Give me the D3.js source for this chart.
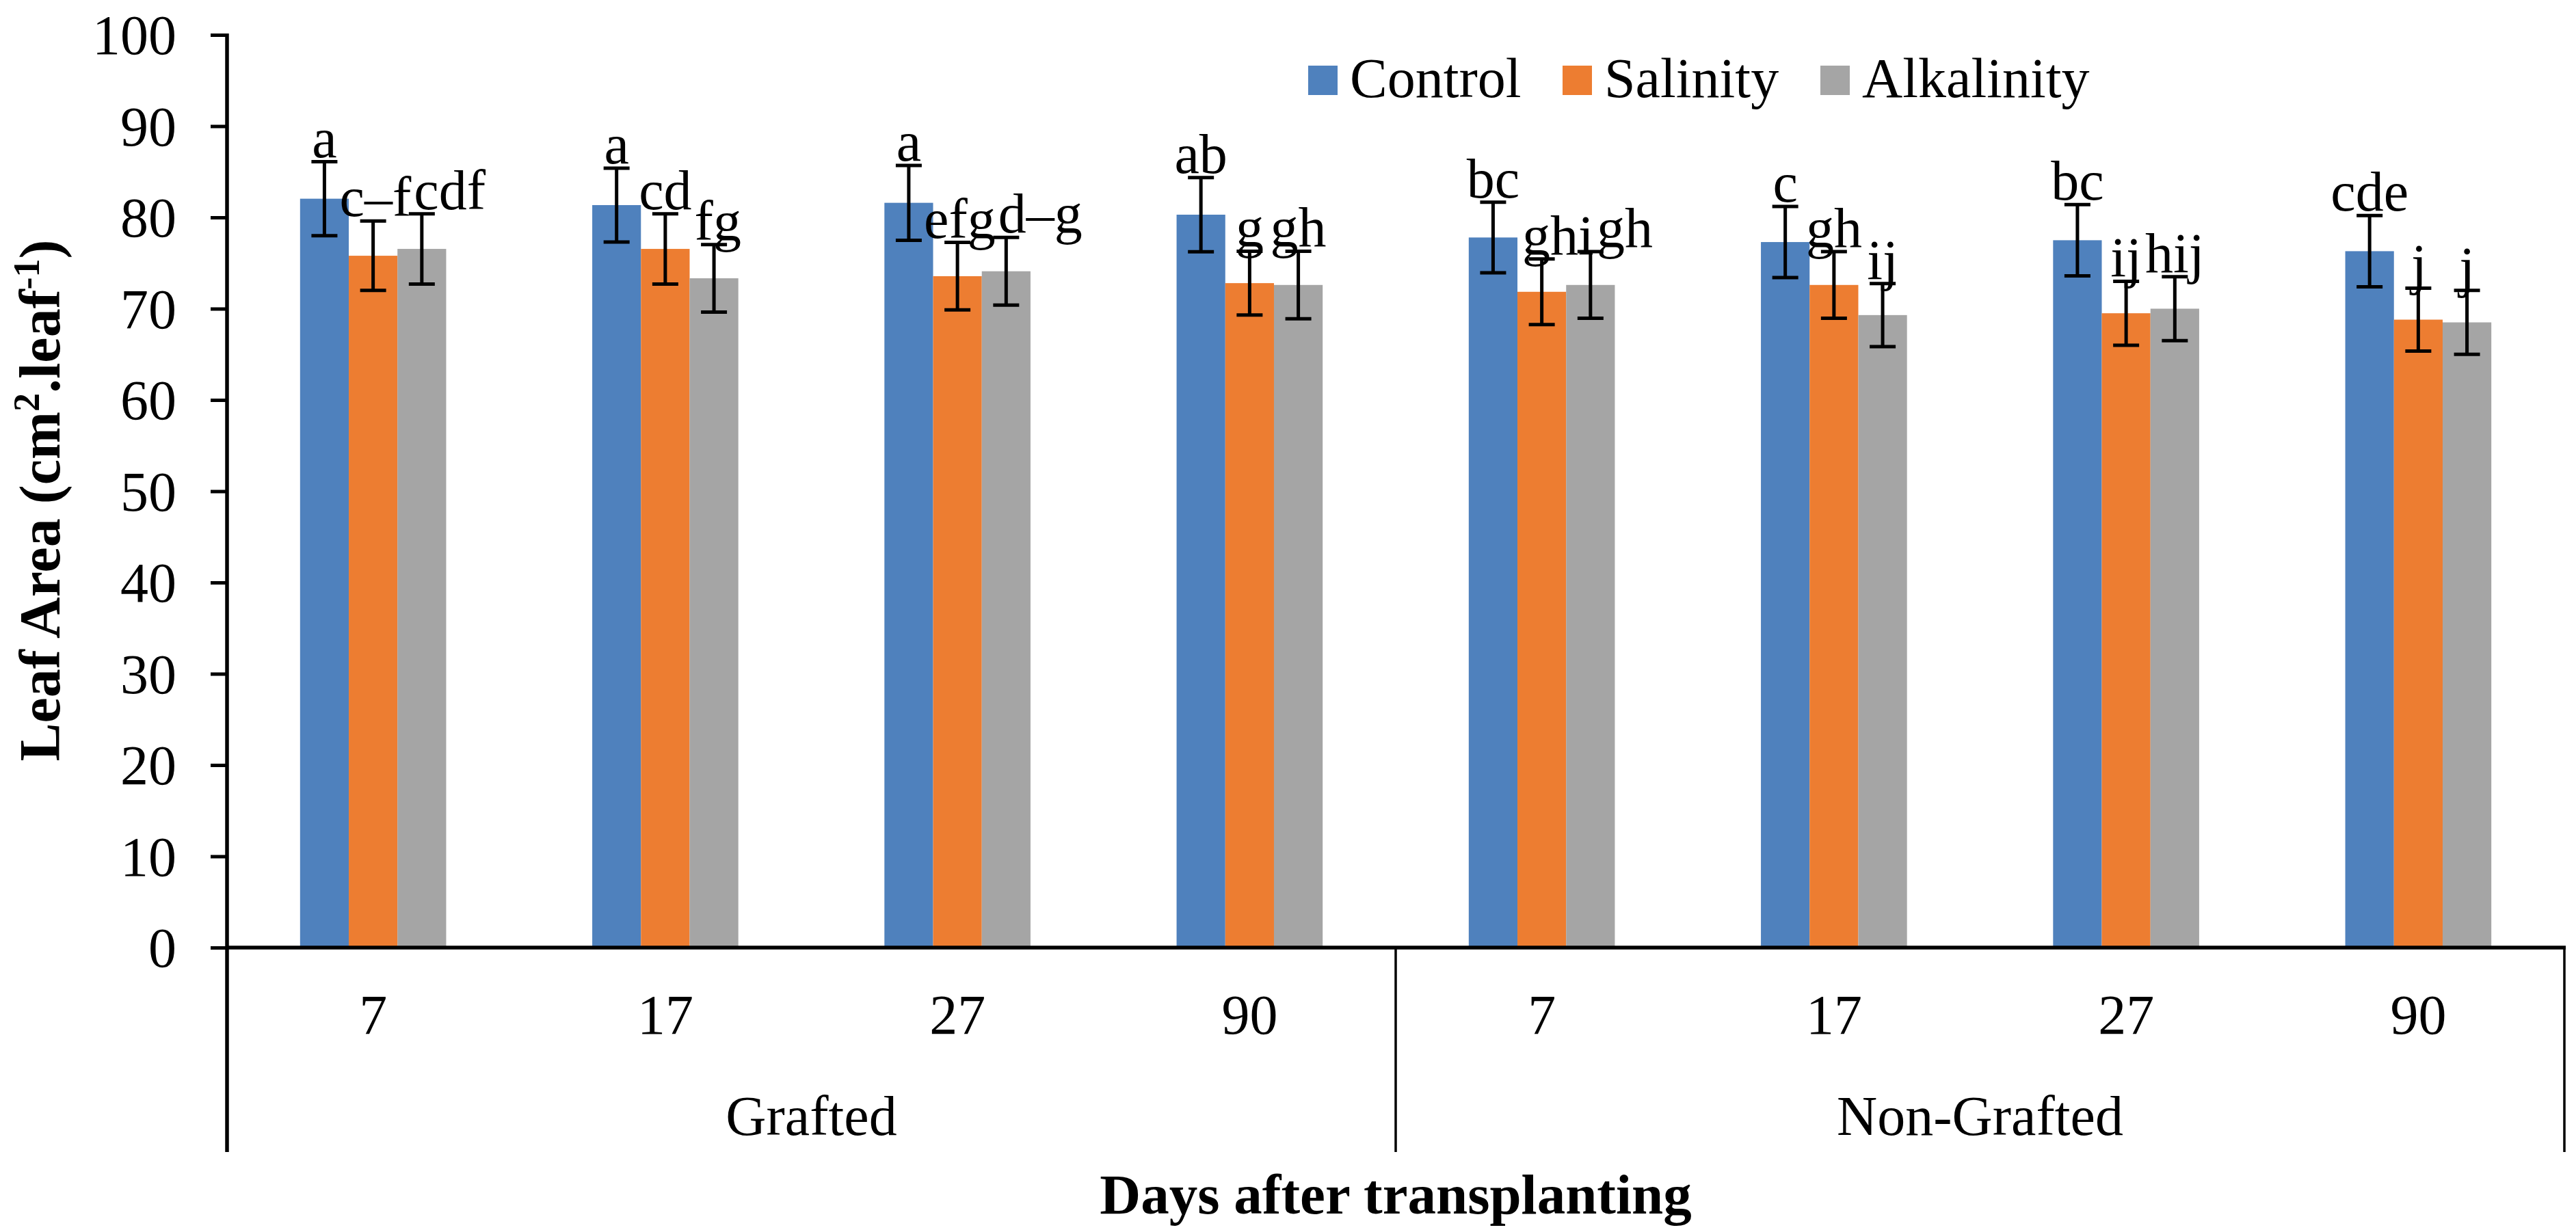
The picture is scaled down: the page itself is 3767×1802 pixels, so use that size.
<!DOCTYPE html>
<html>
<head>
<meta charset="utf-8">
<script src="https://cdn.jsdelivr.net/npm/d3@7"></script>
<style>
  html, body { margin: 0; padding: 0; background: #fff; }
  svg { display: block; }
  text { font-family: "Liberation Serif", "Times New Roman", serif; fill: #000; }
</style>
</head>
<body>
<svg id="chart" width="3767" height="1802"></svg>
<script>
// ---------------- DATA ----------------
const days = ["7", "17", "27", "90", "7", "17", "27", "90"];
const groups = ["Grafted", "Non-Grafted"];
const seriesNames = ["Control", "Salinity", "Alkalinity"];
const control    = [82.05, 81.35, 81.6, 80.3, 77.8, 77.3, 77.5, 76.3];
const salinity   = [75.8, 76.55, 73.56, 72.8, 71.85, 72.6, 69.5, 68.8];
const alkalinity = [76.55, 73.33, 74.1, 72.6, 72.6, 69.3, 70.0, 68.5];
const controlErr    = [4.05, 4.05, 4.1, 4.07, 3.87, 3.9, 3.9, 3.9];
const salinityErr   = [3.8, 3.85, 3.7, 3.5, 3.6, 3.65, 3.5, 3.45];
const alkalinityErr = [3.85, 3.7, 3.7, 3.7, 3.65, 3.45, 3.5, 3.5];
const controlLetters    = ["a", "a", "a", "ab", "bc", "c", "bc", "cde"];
const salinityLetters   = ["c\u2013f", "cd", "efg", "g", "ghi", "gh", "ij", "j"];
const alkalinityLetters = ["cdf", "fg", "d\u2013g", "gh", "gh", "ij", "hij", "j"];
const yTicks = [0, 10, 20, 30, 40, 50, 60, 70, 80, 90, 100];
const colors = ["#4F81BD", "#ED7D31", "#A5A5A5"];

// -------------- LAYOUT --------------
const svg = d3.select("#chart");
const plotLeft = 332, plotRight = 3750, plotTop = 51, plotBottom = 1386;
const fontSize = 82;

const catIdx = d3.range(days.length);
const x0 = d3.scaleBand().domain(catIdx).range([plotLeft, plotRight]).padding(0);
const bw = x0.bandwidth();
const x1 = d3.scaleBand().domain(d3.range(3)).range([bw * 0.25, bw * 0.75]).padding(0);
const y = d3.scaleLinear().domain([0, 100]).range([plotBottom, plotTop]);

const values = [control, salinity, alkalinity];
const errs = [controlErr, salinityErr, alkalinityErr];
const letters = [controlLetters, salinityLetters, alkalinityLetters];

const rows = [];
catIdx.forEach(i => {
  d3.range(3).forEach(s => {
    rows.push({ i, s, v: values[s][i], e: errs[s][i], lab: letters[s][i] });
  });
});

// Bars
svg.append("g").selectAll("rect").data(rows).join("rect")
  .attr("x", d => x0(d.i) + x1(d.s))
  .attr("y", d => y(d.v))
  .attr("width", x1.bandwidth())
  .attr("height", d => y(0) - y(d.v))
  .attr("fill", d => colors[d.s]);

// Error bars
const eg = svg.append("g").attr("stroke", "#000").attr("stroke-width", 5);
const cap = 19;
rows.forEach(d => {
  const cx = x0(d.i) + x1(d.s) + x1.bandwidth() / 2;
  eg.append("line").attr("x1", cx).attr("x2", cx).attr("y1", y(d.v + d.e)).attr("y2", y(d.v - d.e));
  eg.append("line").attr("x1", cx - cap).attr("x2", cx + cap).attr("y1", y(d.v + d.e)).attr("y2", y(d.v + d.e));
  eg.append("line").attr("x1", cx - cap).attr("x2", cx + cap).attr("y1", y(d.v - d.e)).attr("y2", y(d.v - d.e));
});

// Letters (centred over each bar, nudged right if they would overlap the previous one)
const lg = svg.append("g").attr("font-size", fontSize);
catIdx.forEach(i => {
  let prevRight = -Infinity;
  d3.range(3).forEach(s => {
    const d = rows.find(r => r.i === i && r.s === s);
    const cx = x0(i) + x1(s) + x1.bandwidth() / 2;
    const t = lg.append("text").text(d.lab)
      .attr("y", y(d.v + d.e) - 7)
      .attr("text-anchor", "start");
    const w = t.node().getComputedTextLength();
    let lx = cx - w / 2;
    if (lx < prevRight + 4) lx = prevRight + 4;
    t.attr("x", lx);
    prevRight = lx + w;
  });
});

// Y axis
const yAxis = d3.axisLeft(y).tickValues(yTicks).tickSize(24).tickPadding(50).tickFormat(d3.format("d"));
const ya = svg.append("g").attr("transform", `translate(${plotLeft},0)`).call(yAxis);
ya.select(".domain").remove();
ya.selectAll(".tick line").attr("stroke", "#000").attr("stroke-width", 5);
ya.selectAll(".tick text").attr("font-size", fontSize).attr("font-family", "Liberation Serif")
  .attr("fill", "#000").attr("dy", "0.34em");
svg.append("line").attr("x1", plotLeft).attr("x2", plotLeft).attr("y1", plotTop - 2).attr("y2", 1685)
  .attr("stroke", "#000").attr("stroke-width", 5.5);

// X axis line
svg.append("line").attr("x1", plotLeft).attr("x2", plotRight + 2).attr("y1", plotBottom).attr("y2", plotBottom)
  .attr("stroke", "#000").attr("stroke-width", 5.5);

// Category labels
const xa = d3.axisBottom(x0).tickFormat(i => days[i]).tickSize(0).tickPadding(0);
const xg = svg.append("g").attr("transform", `translate(0,${plotBottom})`).call(xa);
xg.select(".domain").remove();
xg.selectAll(".tick text").attr("font-size", fontSize).attr("font-family", "Liberation Serif")
  .attr("fill", "#000").attr("dy", null).attr("y", 1512 - plotBottom);

// Group separators and labels
const groupBounds = [[0, 3], [4, 7]];
[x0(4), plotRight].forEach(xx => {
  svg.append("line").attr("x1", xx).attr("x2", xx).attr("y1", plotBottom).attr("y2", 1685)
    .attr("stroke", "#000").attr("stroke-width", 3.5);
});
groups.forEach((g, k) => {
  const a = x0(groupBounds[k][0]), b = x0(groupBounds[k][1]) + bw;
  svg.append("text").text(g).attr("x", (a + b) / 2).attr("y", 1660)
    .attr("text-anchor", "middle").attr("font-size", fontSize);
});

// X title
svg.append("text").text("Days after transplanting")
  .attr("x", (plotLeft + plotRight) / 2).attr("y", 1775)
  .attr("text-anchor", "middle").attr("font-size", 83).attr("font-weight", "bold");

// Y title
const yt = svg.append("text")
  .attr("transform", `translate(87,732) rotate(-90)`)
  .attr("text-anchor", "middle").attr("font-size", 84).attr("font-weight", "bold");
yt.append("tspan").text("Leaf Area (cm");
yt.append("tspan").text("2").attr("font-size", 54).attr("dy", -30);
yt.append("tspan").text(".leaf").attr("dy", 30);
yt.append("tspan").text("-1").attr("font-size", 54).attr("dy", -30);
yt.append("tspan").text(")").attr("dy", 30);

// Legend
const legendX = [1913, 2285, 2662];
const leg = svg.append("g");
seriesNames.forEach((n, k) => {
  leg.append("rect").attr("x", legendX[k]).attr("y", 96).attr("width", 43).attr("height", 43).attr("fill", colors[k]);
  leg.append("text").text(n).attr("x", legendX[k] + 61).attr("y", 142).attr("font-size", fontSize);
});
</script>
</body>
</html>
